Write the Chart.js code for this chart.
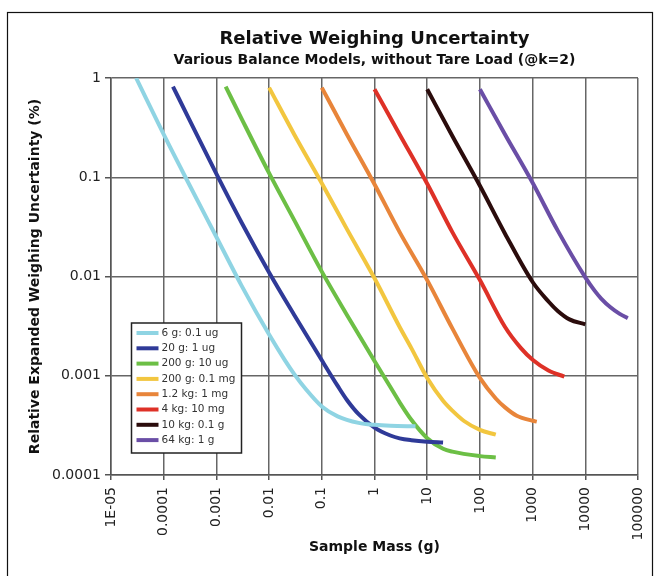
<!DOCTYPE html>
<html>
<head>
<meta charset="utf-8">
<script src="https://cdn.jsdelivr.net/npm/chart.js@4.4.1/dist/chart.umd.min.js"></script>
<style>
  html, body { margin: 0; padding: 0; background: #fff; }
  #chart { display: block; }
</style>
</head>
<body>
<canvas id="chart" width="662" height="576"></canvas>
<script>
// Axis ticks (decades only)
const xTickValues = [1e-5, 1e-4, 1e-3, 1e-2, 1e-1, 1, 10, 100, 1000, 10000, 100000];
const xTickLabels = ["1E-05", "0.0001", "0.001", "0.01", "0.1", "1", "10", "100", "1000", "10000", "100000"];
const yTickValues = [1e-4, 1e-3, 1e-2, 1e-1, 1];
const yTickLabels = ["0.0001", "0.001", "0.01", "0.1", "1"];

// Balance models (legend order)
const seriesLabels = ["6 g: 0.1 ug", "20 g: 1 ug", "200 g: 10 ug", "200 g: 0.1 mg", "1.2 kg: 1 mg", "4 kg: 10 mg", "10 kg: 0.1 g", "64 kg: 1 g"];
const seriesColors = ["#8fd4e3", "#2f3a98", "#6cbf45", "#f2c63f", "#e8853a", "#de3127", "#2b0c0c", "#6a4ea6"];

// Sample mass (g) and relative uncertainty (%)
const m6g  = [3e-5, 1e-4, 3e-4, 1e-3, 3e-3, 0.01, 0.02, 0.03, 0.05, 0.1, 0.2, 0.5, 1, 2, 6];
const u6g  = [1, 0.27, 0.086, 0.025, 0.0081, 0.0026, 0.00143, 0.00104, 0.00073, 0.00049, 0.00039, 0.000335, 0.00032, 0.000313, 0.00031];

const m20g = [1.5e-4, 3e-4, 1e-3, 3e-3, 0.01, 0.03, 0.1, 0.2, 0.3, 0.5, 1, 2, 3, 5, 10, 20];
const u20g = [0.82, 0.39, 0.108, 0.035, 0.011, 0.0041, 0.00143, 0.00079, 0.00057, 0.00041, 0.0003, 0.00025, 0.000234, 0.000224, 0.000216, 0.000212];

const m200g10ug = [0.0015, 0.003, 0.01, 0.03, 0.1, 0.3, 0.5, 1, 2, 3, 5, 10, 20, 30, 100, 200];
const u200g10ug = [0.82, 0.39, 0.11, 0.037, 0.0112, 0.0041, 0.0026, 0.00141, 0.00077, 0.00054, 0.00036, 0.000235, 0.000184, 0.000172, 0.000155, 0.00015];

const m200g01mg = [0.01, 0.03, 0.1, 0.3, 1, 3, 5, 10, 20, 30, 50, 100, 200];
const u200g01mg = [0.8, 0.27, 0.087, 0.03, 0.0096, 0.0031, 0.0019, 0.00095, 0.00056, 0.000445, 0.00035, 0.000285, 0.000255];

const m1200g = [0.1, 0.3, 1, 3, 10, 30, 100, 200, 300, 500, 1000, 1200];
const u1200g = [0.8, 0.27, 0.085, 0.028, 0.0092, 0.003, 0.00095, 0.00059, 0.00048, 0.000395, 0.000352, 0.000345];

const m4kg = [1, 3, 10, 30, 100, 300, 600, 1000, 2000, 4000];
const u4kg = [0.77, 0.27, 0.086, 0.028, 0.0092, 0.0031, 0.0019, 0.00145, 0.00113, 0.00098];

const m10kg = [10, 30, 100, 300, 1000, 2000, 3000, 5000, 10000];
const u10kg = [0.77, 0.26, 0.082, 0.027, 0.0088, 0.0056, 0.0045, 0.0037, 0.0033];

const m64kg = [100, 300, 1000, 3000, 10000, 15000, 20000, 30000, 45000, 64000];
const u64kg = [0.77, 0.27, 0.088, 0.029, 0.0098, 0.0072, 0.006, 0.0049, 0.0042, 0.0038];

const seriesMass = [m6g, m20g, m200g10ug, m200g01mg, m1200g, m4kg, m10kg, m64kg];
const seriesUnc  = [u6g, u20g, u200g10ug, u200g01mg, u1200g, u4kg, u10kg, u64kg];

const datasets = seriesLabels.map((label, i) => ({
  label: label,
  data: seriesMass[i].map((m, j) => ({ x: m, y: seriesUnc[i][j] })),
  borderColor: seriesColors[i],
  backgroundColor: seriesColors[i],
  borderWidth: 4,
  pointRadius: 0,
  fill: false,
  cubicInterpolationMode: "monotone",
}));

// White page with black frame
const framePlugin = {
  id: "frame",
  beforeDraw(chart) {
    const ctx = chart.ctx;
    ctx.save();
    ctx.fillStyle = "#fff";
    ctx.fillRect(0, 0, chart.width, chart.height);
    ctx.strokeStyle = "#111";
    ctx.lineWidth = 1.2;
    ctx.strokeRect(7.5, 12.5, 645, 620);
    ctx.restore();
  }
};

// Boxed legend inside the plot, lower left
const boxLegend = {
  id: "boxLegend",
  afterDraw(chart) {
    const ctx = chart.ctx;
    const area = chart.chartArea;
    const x0 = area.left + 20.5;
    const y0 = area.bottom - 152;
    const rowH = 15.3;
    ctx.save();
    ctx.fillStyle = "#fff";
    ctx.fillRect(x0, y0, 110, 130);
    ctx.strokeStyle = "#222";
    ctx.lineWidth = 1.5;
    ctx.strokeRect(x0, y0, 110, 130);
    ctx.font = "10.5px 'DejaVu Sans'";
    ctx.textBaseline = "middle";
    chart.data.datasets.forEach((ds, i) => {
      const y = y0 + 10 + i * rowH;
      ctx.strokeStyle = ds.borderColor;
      ctx.lineWidth = 4;
      ctx.beginPath();
      ctx.moveTo(x0 + 5, y);
      ctx.lineTo(x0 + 27, y);
      ctx.stroke();
      ctx.fillStyle = "#333";
      ctx.fillText(ds.label, x0 + 30, y);
    });
    ctx.restore();
  }
};

const gridStyle = {
  color: "#666",
  lineWidth: 1.5,
  drawTicks: true,
  tickLength: 5,
  tickColor: "#555",
};

new Chart(document.getElementById("chart"), {
  type: "line",
  data: { datasets: datasets },
  options: {
    responsive: false,
    animation: false,
    devicePixelRatio: 1,
    layout: { padding: { top: 29, left: 0, right: 24, bottom: 0 } },
    plugins: {
      legend: { display: false },
      tooltip: { enabled: false },
      title: {
        display: true,
        text: "Relative Weighing Uncertainty",
        fullSize: false,
        color: "#111",
        font: { family: "DejaVu Sans", size: 18, weight: "bold" },
        padding: { top: 0, bottom: 0 },
      },
      subtitle: {
        display: true,
        text: "Various Balance Models, without Tare Load (@k=2)",
        fullSize: false,
        color: "#111",
        font: { family: "DejaVu Sans", size: 14, weight: "bold" },
        padding: { top: 1, bottom: 9.6 },
      },
    },
    scales: {
      x: {
        type: "logarithmic",
        min: 1e-5,
        max: 1e5,
        afterBuildTicks: (scale) => { scale.ticks = xTickValues.map(v => ({ value: v })); },
        afterFit: (scale) => { scale.height = 101; },
        ticks: {
          autoSkip: false,
          minRotation: 90,
          maxRotation: 90,
          padding: 7,
          color: "#222",
          font: { family: "DejaVu Sans", size: 14 },
          callback: (v) => xTickLabels[xTickValues.indexOf(v)],
        },
        grid: gridStyle,
        border: { display: true, color: "#555", width: 1.5 },
        title: {
          display: true,
          text: "Sample Mass (g)",
          color: "#111",
          font: { family: "DejaVu Sans", size: 14, weight: "bold" },
          padding: { top: 0, bottom: 20 },
        },
      },
      y: {
        type: "logarithmic",
        min: 1e-4,
        max: 1,
        afterBuildTicks: (scale) => { scale.ticks = yTickValues.map(v => ({ value: v })); },
        afterFit: (scale) => { scale.width = 111; },
        ticks: {
          padding: 4,
          color: "#222",
          font: { family: "DejaVu Sans", size: 14 },
          callback: (v) => yTickLabels[yTickValues.indexOf(v)],
        },
        grid: Object.assign({}, gridStyle, { tickLength: 6 }),
        border: { display: true, color: "#555", width: 1.5 },
        title: {
          display: true,
          text: "Relative Expanded Weighing Uncertainty (%)",
          color: "#111",
          font: { family: "DejaVu Sans", size: 14, weight: "bold" },
          padding: { top: 26.6, bottom: 0 },
        },
      },
    },
  },
  plugins: [framePlugin, boxLegend],
});
</script>
</body>
</html>
